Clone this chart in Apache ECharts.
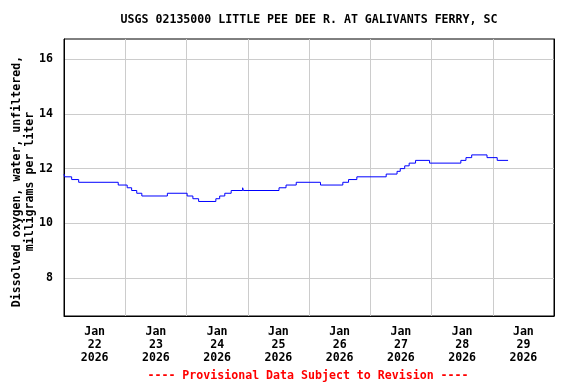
<!DOCTYPE html>
<html><head><meta charset="utf-8">
<script src="https://cdn.jsdelivr.net/npm/echarts@6/dist/echarts.min.js"></script>
<style>html,body{margin:0;padding:0;background:#fff}#c{width:576px;height:384px}</style>
</head><body><div id="c"></div>
<script>
// Step change points (time, value)
const times = [
 '2026-01-22T00:00','2026-01-22T00:15','2026-01-22T03:00','2026-01-22T05:45','2026-01-22T21:15',
 '2026-01-23T00:45','2026-01-23T02:30','2026-01-23T04:30','2026-01-23T06:30','2026-01-23T16:30',
 '2026-01-24T00:15','2026-01-24T02:30','2026-01-24T04:45','2026-01-24T11:30','2026-01-24T13:00',
 '2026-01-24T15:00','2026-01-24T17:30','2026-01-24T22:00','2026-01-24T22:15',
 '2026-01-25T12:15','2026-01-25T15:00','2026-01-25T19:00',
 '2026-01-26T04:30','2026-01-26T13:15','2026-01-26T15:30','2026-01-26T18:45',
 '2026-01-27T06:15','2026-01-27T10:30','2026-01-27T11:45','2026-01-27T13:30','2026-01-27T15:15',
 '2026-01-27T17:45','2026-01-27T23:15',
 '2026-01-28T11:30','2026-01-28T13:30','2026-01-28T15:45','2026-01-28T21:45',
 '2026-01-29T01:45','2026-01-29T06:00'
];
const values = [
 11.8,11.7,11.6,11.5,11.4,
 11.3,11.2,11.1,11.0,11.1,
 11.0,10.9,10.8,10.9,11.0,
 11.1,11.2,11.3,11.2,
 11.3,11.4,11.5,
 11.4,11.5,11.6,11.7,
 11.8,11.9,12.0,12.1,12.2,
 12.3,12.2,
 12.3,12.4,12.5,12.4,
 12.3,12.3
];
const yTicks = [8, 10, 12, 14, 16];
const dayLabels = ['2026-01-22','2026-01-23','2026-01-24','2026-01-25','2026-01-26','2026-01-27','2026-01-28','2026-01-29'];
const titleText = 'USGS 02135000 LITTLE PEE DEE R. AT GALIVANTS FERRY, SC';
const yName = 'Dissolved oxygen, water, unfiltered,\nmilligrams per liter';
const footer = '---- Provisional Data Subject to Revision ----';

function utc(s){
  const [d,t] = s.split('T');
  const [Y,M,D] = d.split('-').map(Number);
  const [h,m] = (t||'00:00').split(':').map(Number);
  return Date.UTC(Y, M-1, D, h, m);
}
const DAY = 86400000;
const xMin = utc('2026-01-22T00:00');
const xMax = utc('2026-01-30T00:00');
const yMin = 6.62, yMax = 16.73;
const labelVals = dayLabels.map(d => utc(d + 'T12:00'));
const MON = ['Jan','Feb','Mar','Apr','May','Jun','Jul','Aug','Sep','Oct','Nov','Dec'];
const F = 'DejaVu Sans Mono';
const black = {show: true, lineStyle: {color: '#000', width: 1}};

const chart = echarts.init(document.getElementById('c'), null, {renderer:'canvas'});
chart.setOption({
  animation: false,
  backgroundColor: '#ffffff',
  title: [
    {text: titleText, left: 304, top: 9, textAlign: 'center',
     textStyle: {fontFamily: F, fontWeight: 'bold', fontSize: 11.6, color: '#000'}},
    {text: footer, left: 303, top: 365, textAlign: 'center',
     textStyle: {fontFamily: F, fontWeight: 'bold', fontSize: 11.6, color: '#ff0000'}}
  ],
  grid: {left: 64, right: 22, top: 39, bottom: 68, show: true, borderColor: '#000', borderWidth: 1,
         containLabel: false, outerBoundsMode: 'none'},
  xAxis: {
    type: 'value', min: xMin, max: xMax, interval: DAY,
    axisLine: black, axisTick: {show: false},
    splitLine: {show: true, lineStyle: {color: '#cccccc', width: 1}},
    axisLabel: {
      customValues: labelVals, margin: 9, lineHeight: 13,
      fontFamily: F, fontWeight: 'bold', fontSize: 11.6, color: '#000',
      formatter: v => { const d = new Date(v); return MON[d.getUTCMonth()] + '\n' + d.getUTCDate() + '\n' + d.getUTCFullYear(); }
    }
  },
  yAxis: [{
    type: 'value', min: yMin, max: yMax,
    name: yName, nameLocation: 'middle', nameRotate: 90, nameGap: 28, nameMoveOverlap: false,
    nameTextStyle: {fontFamily: F, fontWeight: 'bold', fontSize: 11.6, color: '#000', lineHeight: 13,
                    padding: [0, 8, 0, 0]},
    axisLine: black,
    axisTick: {show: false, customValues: yTicks},
    splitLine: {show: true, lineStyle: {color: '#cccccc', width: 1}},
    axisLabel: {customValues: yTicks, margin: 11, fontFamily: F, fontWeight: 'bold', fontSize: 11.6, color: '#000'}
  }, {
    type: 'value', position: 'right', min: yMin, max: yMax,
    axisLine: black, axisTick: {show: false}, axisLabel: {show: false}, splitLine: {show: false}
  }],
  series: [{
    type: 'line', step: 'end', showSymbol: false, silent: true,
    data: times.map((t,i) => [utc(t), values[i]]),
    lineStyle: {color: '#0000ff', width: 1}
  }]
});
</script></body></html>
